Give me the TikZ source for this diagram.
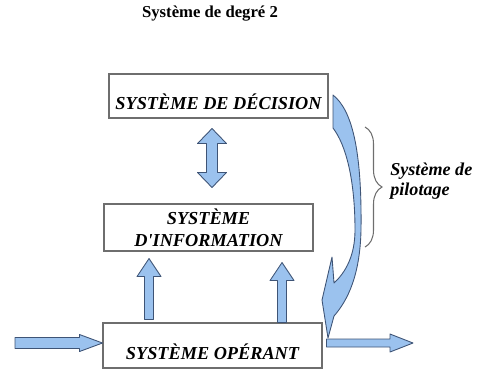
\documentclass[tikz,border=0pt]{standalone}
\usepackage{fontspec}
\setmainfont{Liberation Serif}[Ligatures=TeXOff]
\usetikzlibrary{calc, decorations.pathreplacing}

\definecolor{arrowblue}{RGB}{155,194,238}
\definecolor{arrowline}{RGB}{62,84,118}
\definecolor{boxline}{RGB}{110,110,110}

% block arrow: from, to, half shaft, half head, head length
\newcommand{\blockarrow}[5]{%
  \coordinate (ba-s) at (#1);
  \coordinate (ba-e) at (#2);
  \coordinate (ba-h) at ($(ba-e)!#5!(ba-s)$);
  \filldraw[bigarrow] ($(ba-s)!#3!90:(ba-e)$) -- ($(ba-h)!#3!90:(ba-e)$) -- ($(ba-h)!#4!90:(ba-e)$) -- (ba-e)
    -- ($(ba-h)!#4!-90:(ba-e)$) -- ($(ba-h)!#3!-90:(ba-e)$) -- ($(ba-s)!#3!-90:(ba-e)$) -- cycle;
}
% same with a head at both ends
\newcommand{\blockarrowboth}[5]{%
  \coordinate (ba-s) at (#1);
  \coordinate (ba-e) at (#2);
  \coordinate (ba-h) at ($(ba-e)!#5!(ba-s)$);
  \coordinate (ba-g) at ($(ba-s)!#5!(ba-e)$);
  \filldraw[bigarrow] (ba-s) -- ($(ba-g)!#4!90:(ba-e)$) -- ($(ba-g)!#3!90:(ba-e)$) -- ($(ba-h)!#3!90:(ba-e)$)
    -- ($(ba-h)!#4!90:(ba-e)$) -- (ba-e) -- ($(ba-h)!#4!-90:(ba-e)$) -- ($(ba-h)!#3!-90:(ba-e)$)
    -- ($(ba-g)!#3!-90:(ba-e)$) -- ($(ba-g)!#4!-90:(ba-e)$) -- cycle;
}

\begin{document}
\begin{tikzpicture}[x=0.02cm, y=-0.02cm,
  sysbox/.style={draw=boxline, line width=0.6pt, inner sep=0pt, minimum width=4.38cm,
    font=\fontsize{10.4}{12.4}\selectfont\bfseries\itshape},
  bigarrow/.style={fill=arrowblue, draw=arrowline, line width=0.5pt, line join=round}]
  \useasboundingbox (0,0) rectangle (482,370);

  \node (title) at (210,14) {\fontsize{9.5}{11}\selectfont\bfseries Système de degré 2};

  \node (dec) [sysbox, text height=0.70cm, text depth=0.18cm] at (218.5,96) {SYSTÈME DE DÉCISION};
  \node (info) [sysbox, minimum width=4.18cm, minimum height=0.94cm, align=center] at (208.5,227.5) {SYSTÈME\\D'INFORMATION};
  \node (oper) [sysbox, text height=0.72cm, text depth=0.18cm] at (212.5,345.5) {SYSTÈME OPÉRANT};

  % flows
  \blockarrowboth{$(212,0 |- dec.south)+(0,10)$}{$(212,0 |- info.north)+(0,-16)$}{0.11cm}{0.29cm}{0.30cm}
  \blockarrow{$(149,0 |- oper.north)+(0,-3)$}{$(149,0 |- info.south)+(0,7)$}{0.09cm}{0.24cm}{0.36cm}
  \blockarrow{$(282,0 |- oper.north)$}{$(282,0 |- info.south)+(0,11)$}{0.09cm}{0.24cm}{0.36cm}
  \coordinate (entree) at (15,343);
  \coordinate (sortie) at (413,343);
  \blockarrow{entree}{$(oper.west)+(0,-2.5)$}{0.11cm}{0.17cm}{0.46cm}
  \blockarrow{$(oper.east)+(4,-2.5)$}{sortie}{0.08cm}{0.18cm}{0.46cm}

  % retour de commande
  \filldraw[bigarrow] (333,128) -- (333,95)
    .. controls (352,110) and (362,150) .. (361,230)
    .. controls (360,275) and (348,300) .. (334,316)
    -- (328,338) -- (322,300) -- (332,257) -- (334,283)
    .. controls (346,272) and (355,255) .. (355,230)
    .. controls (355,180) and (346,145) .. (333,128) -- cycle;

  % pilotage
  \coordinate (pilot-top) at (365,127);
  \coordinate (pilot-bot) at (365,247);
  \draw[boxline, line width=0.6pt, decorate, decoration={brace, amplitude=0.34cm}] (pilot-top) -- (pilot-bot);
  \node (pilot) [anchor=west, align=left, inner sep=0pt, font=\fontsize{10.3}{11}\selectfont\bfseries\itshape]
    at (390,181) {Système de\\pilotage};
\end{tikzpicture}
\end{document}
